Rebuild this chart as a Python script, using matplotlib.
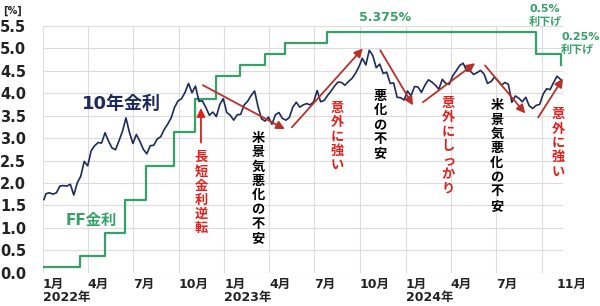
import pandas as pd
import matplotlib.pyplot as plt

plt.rcParams['font.family'] = ['DejaVu Sans', 'Noto Sans CJK JP']

# US 10-year yield, weekly closes (%)
y10_2022 = [1.76, 1.78, 1.75, 1.78, 1.93, 1.94, 1.93, 1.97, 1.73, 2.00, 2.15, 2.48,
            2.38, 2.72, 2.83, 2.90, 2.89, 3.12, 2.93, 2.78, 2.74, 2.94, 3.15, 3.45,
            3.13, 2.88, 3.08, 2.93, 2.75, 2.65, 2.83, 2.84, 2.98, 3.03, 3.19, 3.31,
            3.45, 3.69, 3.83, 3.88, 4.02, 4.22, 4.01, 4.16, 3.82, 3.83, 3.68, 3.51,
            3.58, 3.48, 3.75, 3.88]
y10_2023 = [3.57, 3.51, 3.40, 3.52, 3.53, 3.74, 3.82, 3.95, 4.05, 3.70, 3.43, 3.38,
            3.47, 3.31, 3.52, 3.57, 3.44, 3.40, 3.46, 3.69, 3.80, 3.69, 3.74, 3.77,
            3.74, 3.81, 4.06, 3.81, 3.84, 3.95, 4.05, 4.16, 4.25, 4.24, 4.18, 4.26,
            4.33, 4.44, 4.59, 4.78, 4.63, 4.96, 4.84, 4.57, 4.65, 4.44, 4.47, 4.22,
            4.23, 3.91, 3.90, 3.85]
y10_2024 = [4.05, 3.94, 4.15, 4.14, 4.02, 4.18, 4.30, 4.25, 4.18, 4.09, 4.31, 4.22,
            4.20, 4.39, 4.50, 4.62, 4.67, 4.50, 4.50, 4.42, 4.46, 4.51, 4.43, 4.22,
            4.26, 4.36, 4.28, 4.18, 4.24, 4.20, 3.80, 3.94, 3.89, 3.81, 3.91, 3.72,
            3.66, 3.73, 3.75, 3.98, 4.10, 4.08, 4.24, 4.38, 4.31]
y10_start = 1.63

# FF rate (mid-point of target range) and the dates it changed
ff_dates = ['2022-01-01', '2022-03-17', '2022-05-05', '2022-06-16', '2022-07-28',
            '2022-09-22', '2022-11-03', '2022-12-15', '2023-02-02', '2023-03-23',
            '2023-05-04', '2023-07-27', '2024-09-19', '2024-11-08']
ff_rate = [0.125, 0.375, 0.875, 1.625, 2.375, 3.125, 3.875, 4.375, 4.625, 4.875,
           5.125, 5.375, 4.875, 4.625]

yticks = [0.0, 0.5, 1.0, 1.5, 2.0, 2.5, 3.0, 3.5, 4.0, 4.5, 5.0, 5.5]
grid_dates = pd.date_range('2022-01-01', '2024-10-01', freq='QS')
xtick_dates = ['2022-01-01', '2022-04-01', '2022-07-01', '2022-10-01',
               '2023-01-01', '2023-04-01', '2023-07-01', '2023-10-01',
               '2024-01-01', '2024-04-01', '2024-07-01', '2024-11-01']
xtick_labels = ['1月', '4月', '7月', '10月', '1月', '4月', '7月', '10月',
                '1月', '4月', '7月', '11月']
year_dates = ['2022-01-01', '2023-01-01', '2024-01-01']
year_labels = ['2022年', '2023年', '2024年']

navy = '#1c2a5c'
green = '#35a068'
red = '#e0201c'
arrow_red = '#b8302a'

y10 = [y10_start] + y10_2022 + y10_2023 + y10_2024
y10_dates = [pd.Timestamp('2022-01-03')] + list(pd.date_range('2022-01-07', '2024-11-08', freq='W-FRI'))

fig = plt.figure(figsize=(6, 3.06), dpi=100)
ax = fig.add_axes([43 / 600, 33.4 / 306, 520 / 600, 246.6 / 306])

for d in grid_dates:
    ax.axvline(d, color='#dcdcdc', lw=0.8, zorder=0)
for v in yticks:
    ax.axhline(v, color='#dcdcdc', lw=0.8, zorder=0)

ax.plot(pd.to_datetime(ff_dates), ff_rate, drawstyle='steps-post', color=green, lw=1.6, zorder=2)
ax.plot(y10_dates, y10, color=navy, lw=1.2, zorder=3)

ax.set_xlim(pd.Timestamp('2022-01-01'), pd.Timestamp('2024-11-13'))
ax.set_ylim(0, 5.5)
for s in ax.spines.values():
    s.set_visible(False)

ax.set_yticks(yticks)
ax.set_yticklabels([f'{v:.1f}' for v in yticks], fontsize=10.5, fontweight='bold', color='#222222')
ax.set_xticks(pd.to_datetime(xtick_dates))
ax.set_xticklabels(xtick_labels, fontsize=9, fontweight='bold', color='#222222', ha='left')
ax.tick_params(axis='y', length=0, pad=12)
ax.tick_params(axis='x', length=0, pad=4)

for d, lab in zip(year_dates, year_labels):
    ax.text(pd.Timestamp(d), -0.103, lab, transform=ax.get_xaxis_transform(),
            fontsize=9, fontweight='bold', color='#222222', ha='left', va='center')

fig.text(0.005, 0.965, '[%]', fontsize=7, fontweight='bold', color='#222222', va='center')

T = pd.Timestamp
ax.text(T('2022-06-08'), 3.75, '10年金利', color=navy, fontsize=13, fontweight='bold',
        ha='center', va='center')
ax.text(T('2022-04-09'), 1.17, 'FF金利', color=green, fontsize=11, fontweight='bold',
        ha='center', va='center')
ax.text(T('2023-11-21'), 5.69, '5.375%', color=green, fontsize=9, fontweight='bold',
        ha='center', va='center')
ax.text(T('2024-10-08'), 5.74, '0.5%\n利下げ', color=green, fontsize=8, fontweight='bold',
        ha='center', va='center', linespacing=1.3)
ax.text(T('2024-11-09'), 5.11, '0.25%\n利下げ', color=green, fontsize=8, fontweight='bold',
        ha='left', va='center', linespacing=1.3)


def vtext(date, val, s, color):
    ax.text(T(date), val, '\n'.join(s), color=color, fontsize=9.5, fontweight='bold',
            ha='center', va='center', linespacing=1.13)


vtext('2022-11-15', 1.77, '長短金利逆転', red)
vtext('2023-03-10', 1.88, '米景気悪化の不安', 'black')
vtext('2023-08-16', 3.02, '意外に強い', red)
vtext('2023-11-11', 3.29, '悪化の不安', 'black')
vtext('2024-03-27', 2.82, '意外にしっかり', red)
vtext('2024-07-03', 2.60, '米景気悪化の不安', 'black')
vtext('2024-11-03', 2.88, '意外に強い', red)

arrows = [
    (('2022-11-15', 2.90), ('2022-11-15', 3.67), red),
    (('2022-11-19', 4.18), ('2023-05-03', 3.20), arrow_red),
    (('2023-05-17', 3.24), ('2023-10-07', 5.00), arrow_red),
    (('2023-11-11', 4.96), ('2024-01-16', 3.73), arrow_red),
    (('2024-02-05', 3.80), ('2024-05-20', 4.67), arrow_red),
    (('2024-06-09', 4.62), ('2024-08-29', 3.55), arrow_red),
    (('2024-09-24', 3.46), ('2024-11-13', 4.33), arrow_red),
]
for (d0, v0), (d1, v1), c in arrows:
    ax.annotate('', xy=(T(d1), v1), xytext=(T(d0), v0), annotation_clip=False,
                arrowprops=dict(arrowstyle='-|>,head_length=0.5,head_width=0.25',
                                color=c, lw=1.3, shrinkA=0, shrinkB=0), zorder=4)

plt.savefig('out.png', dpi=100)
